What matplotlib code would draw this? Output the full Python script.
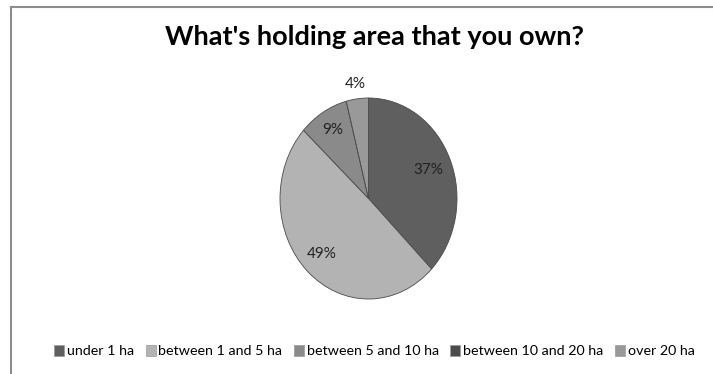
import numpy as np
import matplotlib.pyplot as plt
from matplotlib.patches import Patch
from matplotlib.lines import Line2D

labels = ['under 1 ha', 'between 1 and 5 ha', 'between 5 and 10 ha',
          'between 10 and 20 ha', 'over 20 ha']
values = [37, 49, 9, 0, 4]
pct_text = ['37%', '49%', '9%', '', '4%']
colors = ['#5f5f5f', '#b3b3b3', '#8a8a8a', '#4b4b4b', '#999999']
label_r = [0.73, 0.76, 0.79, 0.8, 1.15]

fig = plt.figure(figsize=(7.13, 3.74), dpi=100)
W, H = 713, 374

# chart frame (top and left edges)
fig.add_artist(Line2D([10.5 / W, 1], [1 - 6.5 / H, 1 - 6.5 / H], transform=fig.transFigure,
                      color='#8c8c8c', lw=1.5))
fig.add_artist(Line2D([10.5 / W, 10.5 / W], [0, 1 - 6.5 / H], transform=fig.transFigure,
                      color='#8c8c8c', lw=1.5))

fig.text(0.525, 1 - 37 / H, "What's holding area that you own?", ha='center', va='center',
         fontsize=19.5, fontweight='bold', family='Lato')

ax = fig.add_axes([280 / W, 1 - 299 / H, 177 / W, 201 / H])
wedges, _ = ax.pie(values, colors=colors, startangle=90, counterclock=False,
                   wedgeprops=dict(edgecolor='#4a4a4a', linewidth=0.6))
ax.set_aspect('auto')
ax.set_xlim(-1, 1)
ax.set_ylim(-1, 1)

for w, t, r in zip(wedges, pct_text, label_r):
    if not t:
        continue
    ang = np.deg2rad((w.theta1 + w.theta2) / 2)
    ax.text(r * np.cos(ang), r * np.sin(ang), t, ha='center', va='center',
            fontsize=11, family='Lato', color='#222222')

handles = [Patch(facecolor=c, edgecolor='#9a9a9a', linewidth=0.5) for c in colors]
fig.legend(handles, labels, loc='center', bbox_to_anchor=(0.525, 1 - 351 / H), ncol=5,
           frameon=False, prop=dict(family='Lato', size=10.3), handlelength=0.7,
           handleheight=0.8, handletextpad=0.2, columnspacing=0.8)

fig.savefig('out.png', dpi=100)
